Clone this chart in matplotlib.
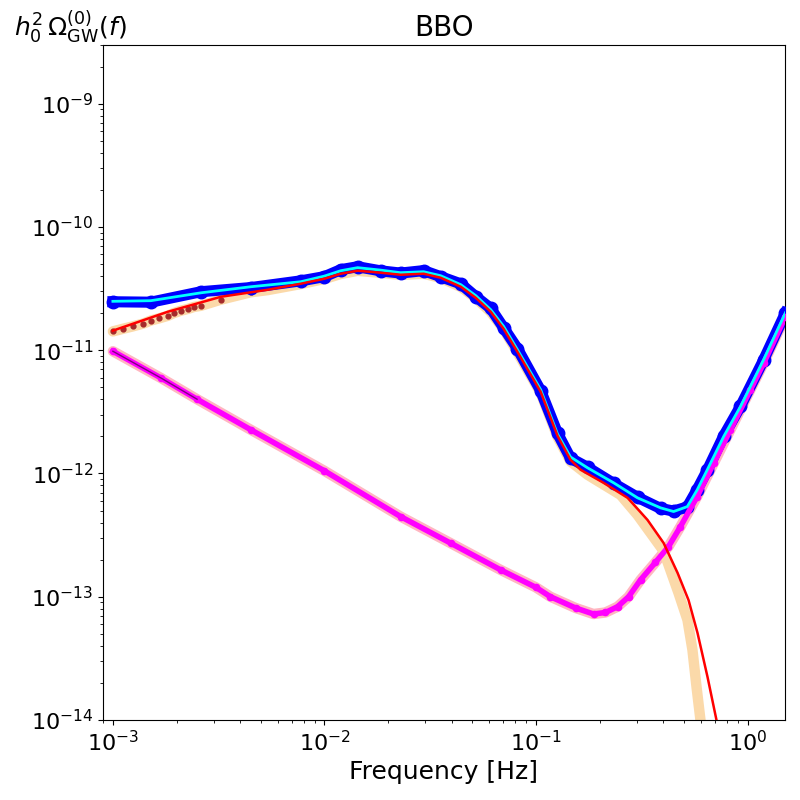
import matplotlib
matplotlib.use('Agg')
import matplotlib.pyplot as plt

# ---- Noise curve (magenta) ----
f_noise = [1.0e-3, 1.69e-3, 2.5e-3, 4.49e-3, 1.0e-2, 2.29e-2, 3.95e-2, 6.81e-2, 0.1,
           0.117, 0.154, 0.187, 0.213, 0.243, 0.274, 0.312, 0.367, 0.423, 0.482,
           0.578, 0.692, 0.830, 1.032, 1.19, 1.51]
noise = [9.8e-12, 5.94e-12, 4.0e-12, 2.26e-12, 1.05e-12, 4.47e-13, 2.72e-13, 1.65e-13, 1.19e-13,
         1.0e-13, 8.1e-14, 7.24e-14, 7.45e-14, 8.3e-14, 1.0e-13, 1.37e-13, 1.9e-13, 2.55e-13, 3.71e-13,
         6.5e-13, 1.21e-12, 2.26e-12, 4.78e-12, 7.8e-12, 1.87e-11]

# ---- Signal data (orange band + brown points) ----
f_sig = [1.0e-3, 1.115e-3, 1.243e-3, 1.386e-3, 1.512e-3, 1.649e-3, 1.819e-3, 1.942e-3,
         2.096e-3, 2.262e-3, 2.413e-3, 2.604e-3, 3.24e-3, 4.49e-3, 5.39e-3, 7.73e-3, 1.0e-2,
         1.194e-2, 1.435e-2, 1.845e-2, 2.29e-2, 2.944e-2, 3.54e-2, 4.41e-2, 5.19e-2, 6.11e-2,
         7.03e-2, 8.17e-2, 0.1052, 0.1264, 0.1456, 0.1754, 0.251, 0.302, 0.401, 0.472, 0.520,
         0.549, 0.574, 0.599, 0.612]
sig_data = [1.42e-11, 1.49e-11, 1.56e-11, 1.64e-11, 1.74e-11, 1.81e-11, 1.90e-11, 2.00e-11,
            2.09e-11, 2.16e-11, 2.24e-11, 2.29e-11, 2.57e-11, 2.95e-11, 3.07e-11, 3.44e-11, 3.78e-11,
            4.15e-11, 4.40e-11, 4.24e-11, 4.08e-11, 4.17e-11, 3.86e-11, 3.26e-11, 2.65e-11, 2.04e-11,
            1.48e-11, 9.6e-12, 4.5e-12, 1.98e-12, 1.25e-12, 9.75e-13, 6.7e-13, 4.6e-13, 2.35e-13,
            1.07e-13, 6.49e-14, 3.7e-14, 1.85e-14, 1.0e-14, 4.7e-15]

# ---- Signal fit (red) ----
f_fit = [1.0e-3, 1.82e-3, 3.24e-3, 5.39e-3, 7.73e-3, 1.0e-2, 1.194e-2, 1.435e-2, 1.845e-2,
         2.29e-2, 2.944e-2, 3.54e-2, 4.41e-2, 5.19e-2, 6.11e-2, 7.03e-2, 8.17e-2, 0.1052,
         0.1264, 0.1456, 0.1626, 0.2085, 0.271, 0.3365, 0.401, 0.467, 0.526, 0.580, 0.647,
         0.713, 0.760]
sig_fit = [1.44e-11, 2.05e-11, 2.71e-11, 3.09e-11, 3.46e-11, 3.80e-11, 4.17e-11, 4.41e-11, 4.25e-11,
           4.09e-11, 4.17e-11, 3.87e-11, 3.27e-11, 2.66e-11, 2.05e-11, 1.49e-11, 9.7e-12, 4.6e-12,
           2.02e-12, 1.29e-12, 1.07e-12, 8.4e-13, 6.34e-13, 4.2e-13, 2.73e-13, 1.56e-13, 9.4e-14,
           5.09e-14, 2.23e-14, 1.0e-14, 5.7e-15]

# ---- Total: data (blue) and fit (cyan) ----
f_tot = [1.0e-3, 1.51e-3, 2.61e-3, 4.49e-3, 7.73e-3, 1.0e-2, 1.194e-2, 1.435e-2, 1.845e-2,
         2.29e-2, 2.944e-2, 3.54e-2, 4.41e-2, 5.19e-2, 6.11e-2, 7.03e-2, 8.17e-2, 0.1052,
         0.1264, 0.1456, 0.1754, 0.2328, 0.302, 0.388, 0.447, 0.519, 0.578, 0.645, 0.772,
         0.926, 1.19, 1.51]
tot_data = [2.47e-11, 2.45e-11, 2.98e-11, 3.22e-11, 3.65e-11, 3.95e-11, 4.50e-11, 4.75e-11, 4.40e-11,
            4.22e-11, 4.42e-11, 3.95e-11, 3.45e-11, 2.72e-11, 2.18e-11, 1.52e-11, 1.03e-11, 4.70e-12,
            2.12e-12, 1.33e-12, 1.12e-12, 8.3e-13, 6.4e-13, 5.2e-13, 4.95e-13, 5.35e-13, 7.4e-13,
            1.06e-12, 2.02e-12, 3.5e-12, 8.3e-12, 2.0e-11]
tot_fit = [2.49e-11, 2.52e-11, 2.92e-11, 3.27e-11, 3.59e-11, 3.99e-11, 4.41e-11, 4.67e-11, 4.46e-11,
           4.25e-11, 4.33e-11, 4.02e-11, 3.40e-11, 2.77e-11, 2.13e-11, 1.56e-11, 1.01e-11, 4.78e-12,
           2.09e-12, 1.36e-12, 1.11e-12, 8.4e-13, 6.34e-13, 5.26e-13, 4.91e-13, 5.38e-13, 7.36e-13,
           1.07e-12, 2.0e-12, 3.49e-12, 8.35e-12, 2.01e-11]

fig = plt.figure(figsize=(8, 8), dpi=100)
ax = fig.add_axes([0.129, 0.1, 0.852, 0.844])

ax.plot(f_noise, noise, color='lightpink', lw=7.5, solid_capstyle='round', zorder=1)
ax.plot(f_sig, sig_data, color='#FBD9A9', lw=7.5, solid_capstyle='round', zorder=1.5)
ax.plot(f_sig[:14], sig_data[:14], 'o', color='brown', ms=3.5, zorder=2)
ax.plot(f_tot, tot_data, 'o-', color='blue', ms=9, lw=8, zorder=3)
ax.plot(f_noise, noise, color='magenta', lw=4, marker='o', ms=4.5, zorder=4)
ax.plot(f_noise[:3], noise[:3], color='purple', lw=1, zorder=4.5)
ax.plot(f_tot, tot_fit, color='cyan', lw=2, zorder=5)
ax.plot(f_fit, sig_fit, color='red', lw=1.8, zorder=6)

ax.set_xscale('log')
ax.set_yscale('log')
ax.set_xlim(9e-4, 1.5)
ax.set_ylim(1e-14, 3e-9)
ax.tick_params(axis='both', which='major', labelsize=16)
ax.set_xlabel('Frequency [Hz]', fontsize=18)
ax.set_title('BBO', fontsize=20)
fig.text(0.018, 0.966, r'$h_0^2\,\Omega_{\rm GW}^{(0)}(f)$', fontsize=18, ha='left', va='center')

fig.savefig('out.png', dpi=100)
